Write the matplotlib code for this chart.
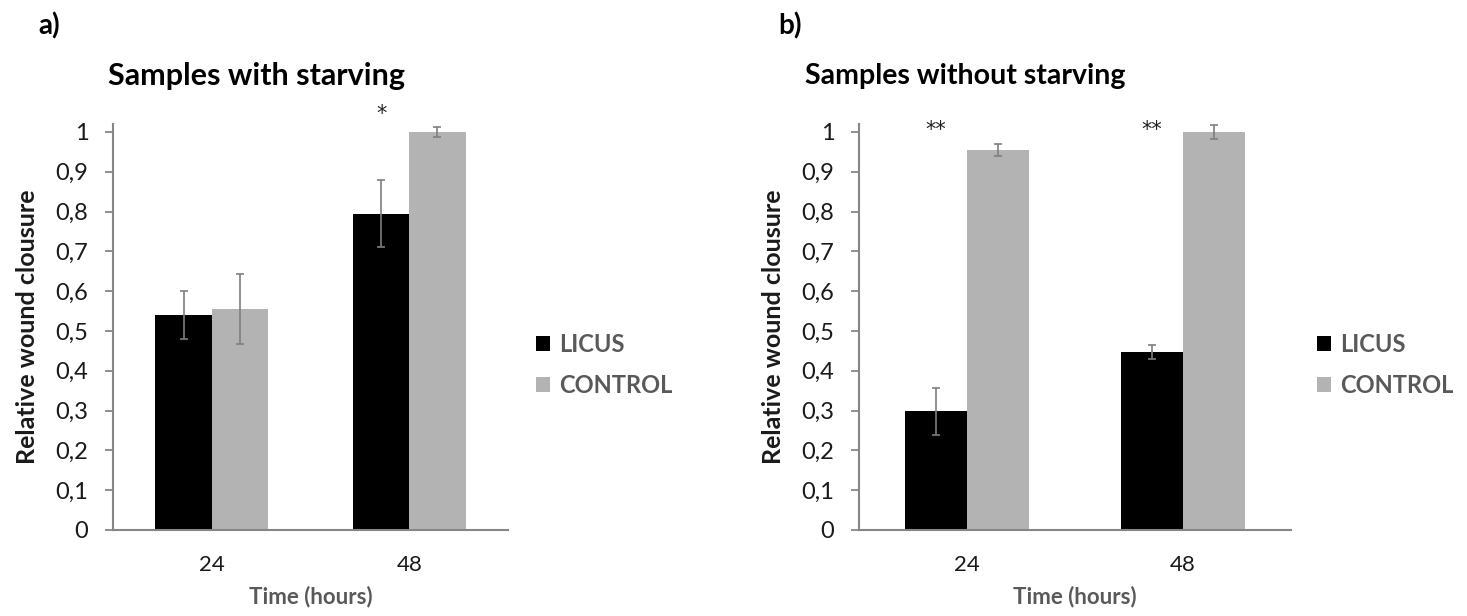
import matplotlib
matplotlib.use("Agg")
import matplotlib.pyplot as plt
import numpy as np
from matplotlib.ticker import FuncFormatter

plt.rcParams['font.family'] = ['Lato', 'DejaVu Sans']

times = ["24", "48"]
series = ["LICUS", "CONTROL"]
colors = ["#000000", "#b3b3b3"]

# panel a: with starving
starv_licus = [0.54, 0.795]
starv_control = [0.555, 1.0]
starv_licus_err = [0.06, 0.085]
starv_control_err = [0.088, 0.013]
starv_marks = ["", "*"]

# panel b: without starving
nostarv_licus = [0.298, 0.447]
nostarv_control = [0.955, 1.0]
nostarv_licus_err = [0.06, 0.018]
nostarv_control_err = [0.016, 0.018]
nostarv_marks = ["**", "**"]

fig = plt.figure(figsize=(14.67, 6.16), dpi=100, facecolor='white')

def panel(rect, letter, title, licus, control, lerr, cerr, marks, marky, legx, lettx, titlex, tsize):
    ax = fig.add_axes(rect)
    x = np.arange(len(times))
    w = 0.285
    ekw = dict(ecolor='#7f7f7f', elinewidth=1.2, capsize=3, capthick=1.2)
    ax.bar(x - w/2, licus, w, color=colors[0], yerr=lerr, error_kw=ekw, label=series[0])
    ax.bar(x + w/2, control, w, color=colors[1], yerr=cerr, error_kw=ekw, label=series[1])
    # significance stars above the LICUS bars
    for i, m in enumerate(marks):
        if m:
            ax.text(x[i] - w/2, marky, m, ha='center', va='center', fontsize=15,
                    color='#222222', family='DejaVu Sans', clip_on=False)
    ax.set_xlim(-0.5, 1.5)
    ax.set_ylim(0, 1.02)
    ax.set_yticks(np.arange(0, 1.01, 0.1))
    ax.yaxis.set_major_formatter(FuncFormatter(lambda v, p: ("%g" % round(v, 1)).replace('.', ',')))
    ax.set_xticks(x)
    ax.set_xticklabels(times)
    ax.tick_params(axis='x', length=0, pad=18, labelsize=16, labelcolor='#1a1a1a')
    ax.tick_params(axis='y', direction='out', length=5.8, width=1.3, color='#868686',
                   labelsize=17, labelcolor='#1a1a1a', pad=12)
    for s in ['top', 'right']:
        ax.spines[s].set_visible(False)
    for s in ['left', 'bottom']:
        ax.spines[s].set_color('#868686')
        ax.spines[s].set_linewidth(1.5)
    ax.set_ylabel("Relative wound clousure", fontsize=18, fontweight='bold', color='#1a1a1a', labelpad=12)
    ax.set_xlabel("Time (hours)", fontsize=16, fontweight='bold', color='#595959', labelpad=8)
    fig.text(lettx, 1 - 26/616, letter, fontsize=20, fontweight='bold', ha='left', va='center')
    fig.text(titlex, 1 - 76/616, title, fontsize=tsize, fontweight='bold', ha='center', va='center')
    ax.legend(loc='center left', bbox_to_anchor=(legx, 0.406), frameon=False,
              handlelength=0.6, handleheight=0.6, handletextpad=0.4, labelspacing=0.75,
              prop={'weight': 'bold', 'size': 17}, labelcolor='#595959')
    return ax

bottom = 1 - 530/616
height = 406/616
panel([113/1467, bottom, 395/1467, height], "a)", "Samples with starving",
      starv_licus, starv_control, starv_licus_err, starv_control_err, starv_marks, 1.045,
      1.017, 38/1467, 257/1467, 22)
panel([859/1467, bottom, 432/1467, height], "b)", "Samples without starving",
      nostarv_licus, nostarv_control, nostarv_licus_err, nostarv_control_err, nostarv_marks, 1.005,
      1.01, 778/1467, 965/1467, 20.5)

fig.savefig("out.png", dpi=100, facecolor='white')
